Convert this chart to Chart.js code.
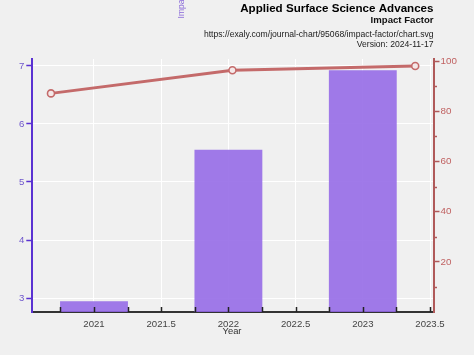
<!DOCTYPE html>
<html>
<head>
<meta charset="utf-8">
<script src="https://cdn.jsdelivr.net/npm/chart.js@4.4.0/dist/chart.umd.min.js"></script>
<style>
html,body{margin:0;padding:0;background:#f0f0f0;}
#wrap{width:474px;height:355px;position:relative;}
</style>
</head>
<body>
<div id="wrap"><canvas id="c" width="474" height="355"></canvas></div>
<script>
// ---- data ----
const years = [2021, 2022, 2023];
const impactFactor = [2.94, 5.55, 6.92];
const lineYears = [2020.68, 2022.03, 2023.39];
const percentile = [87.1, 96.3, 98.0];
const xTicks = [2021, 2021.5, 2022, 2022.5, 2023, 2023.5];
const xMinorTicks = [2020.75, 2021, 2021.25, 2021.5, 2021.75, 2022, 2022.25, 2022.5, 2022.75, 2023, 2023.25, 2023.5];
const leftTicks = [3, 4, 5, 6, 7];
const rightTicks = [20, 40, 60, 80, 100];
const rightMinorTicks = [10, 30, 50, 70, 90];
const titleText = 'Applied Surface Science Advances';
const subtitleText = 'Impact Factor';
const urlText = 'https://exaly.com/journal-chart/95068/impact-factor/chart.svg';
const versionText = 'Version: 2024-11-17';
const xTitle = 'Year';
const yTitle = 'Impact Factor';

const FONT = '"Liberation Sans", Arial, sans-serif';
const PURPLE = '#5a32d2';
const RED = '#b05a5a';

const decor = {
  id: 'decor',
  beforeDraw(chart) {
    const ctx = chart.ctx;
    ctx.save();
    ctx.fillStyle = '#f0f0f0';
    ctx.fillRect(0, 0, chart.width, chart.height);
    ctx.restore();
  },
  afterDatasetsDraw(chart) {
    const ctx = chart.ctx;
    const xs = chart.scales.x, yr = chart.scales.y2;
    const a = chart.chartArea;
    ctx.save();
    ctx.strokeStyle = '#222';
    ctx.lineWidth = 1.5;
    xMinorTicks.forEach(v => {
      const px = Math.round(xs.getPixelForValue(v)) + 0.5;
      ctx.beginPath();
      ctx.moveTo(px, a.bottom);
      ctx.lineTo(px, a.bottom - 5);
      ctx.stroke();
    });
    ctx.strokeStyle = RED;
    ctx.lineWidth = 1.5;
    rightMinorTicks.forEach(v => {
      const py = Math.round(yr.getPixelForValue(v)) + 0.5;
      ctx.beginPath();
      ctx.moveTo(a.right, py);
      ctx.lineTo(a.right + 3.5, py);
      ctx.stroke();
    });
    ctx.restore();
  },
  afterDraw(chart) {
    const ctx = chart.ctx;
    ctx.save();
    ctx.textAlign = 'right';
    ctx.textBaseline = 'alphabetic';
    ctx.fillStyle = '#000';
    ctx.font = 'bold 11.6px ' + FONT;
    ctx.fillText(titleText, 433.5, 11.5);
    ctx.fillStyle = '#111';
    ctx.font = 'bold 9.6px ' + FONT;
    ctx.fillText(subtitleText, 433.5, 23);
    ctx.fillStyle = '#222';
    ctx.font = '8.6px ' + FONT;
    ctx.fillText(urlText, 433.5, 36.7);
    ctx.fillText(versionText, 433.5, 46.8);
    // x axis title
    ctx.textAlign = 'center';
    ctx.fillStyle = '#333';
    ctx.font = '9.4px ' + FONT;
    ctx.fillText(xTitle, 232, 333.5);
    // rotated y title (clipped at top)
    ctx.translate(183.8, 18.5);
    ctx.rotate(-Math.PI / 2);
    ctx.textAlign = 'left';
    ctx.fillStyle = '#8a6ad8';
    ctx.font = '8.6px ' + FONT;
    ctx.fillText(yTitle, 0, 0);
    ctx.restore();
  }
};

new Chart(document.getElementById('c'), {
  type: 'bar',
  data: {
    datasets: [
      {
        type: 'line',
        data: lineYears.map((x, i) => ({ x: x, y: percentile[i] })),
        yAxisID: 'y2',
        xAxisID: 'x',
        borderColor: '#c46a6a',
        borderWidth: 3,
        pointRadius: 3.5,
        pointBorderWidth: 1.6,
        pointBackgroundColor: '#f4e8e8',
        pointBorderColor: '#c46a6a',
        tension: 0,
        order: 0
      },
      {
        type: 'bar',
        data: years.map((x, i) => ({ x: x, y: impactFactor[i] })),
        yAxisID: 'y',
        xAxisID: 'x',
        backgroundColor: 'rgba(147,104,230,0.88)',
        borderWidth: 0,
        barPercentage: 1,
        categoryPercentage: 1,
        order: 1
      }
    ]
  },
  options: {
    responsive: false,
    animation: false,
    devicePixelRatio: 1,
    layout: { padding: { top: 59, left: 0, right: 0, bottom: 0 } },
    plugins: { legend: { display: false }, tooltip: { enabled: false }, title: { display: false } },
    scales: {
      x: {
        type: 'linear',
        position: 'bottom',
        offset: false,
        min: 2020.541,
        max: 2023.526,
        afterBuildTicks: s => { s.ticks = xTicks.map(v => ({ value: v })); },
        afterFit: s => { s.height = 43; },
        ticks: {
          color: '#444',
          font: { family: FONT, size: 9.6 },
          padding: 7,
          maxRotation: 0,
          autoSkip: false,
          callback: v => String(v)
        },
        grid: { color: '#ffffff', lineWidth: 1, drawTicks: false, offset: false },
        border: { color: '#333', width: 2 }
      },
      y: {
        type: 'linear',
        position: 'left',
        min: 2.759,
        max: 7.12,
        afterBuildTicks: s => { s.ticks = leftTicks.map(v => ({ value: v })); },
        afterFit: s => { s.width = 32.3; },
        ticks: {
          color: '#6e56cc',
          font: { family: FONT, size: 9.6 },
          padding: 2
        },
        grid: { color: '#ffffff', lineWidth: 1, drawTicks: true, tickLength: 6, tickColor: PURPLE, tickWidth: 1.5 },
        border: { color: PURPLE, width: 2 }
      },
      y2: {
        type: 'linear',
        position: 'right',
        min: 0,
        max: 100.8,
        afterBuildTicks: s => { s.ticks = rightTicks.map(v => ({ value: v })); },
        afterFit: s => { s.width = 40.5; },
        ticks: {
          color: '#c06262',
          font: { family: FONT, size: 9.8 },
          padding: 1
        },
        grid: { drawOnChartArea: false, drawTicks: true, tickLength: 6, tickColor: RED, tickWidth: 1.5 },
        border: { color: RED, width: 2 }
      }
    }
  },
  plugins: [decor]
});
</script>
</body>
</html>
